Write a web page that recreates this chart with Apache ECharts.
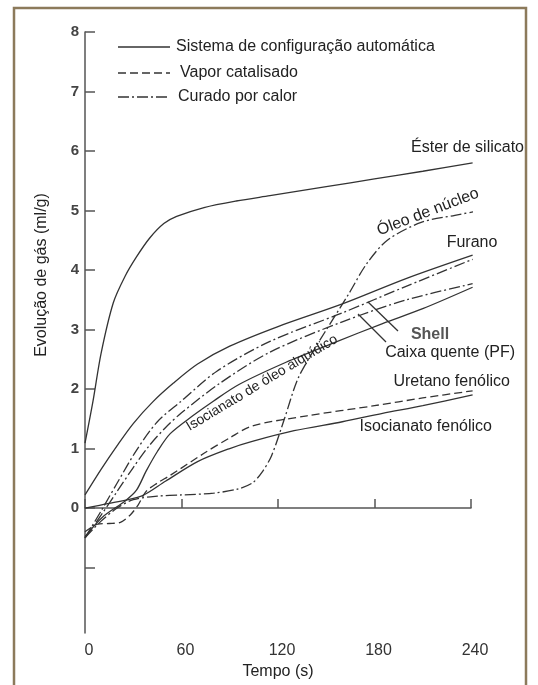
<!DOCTYPE html>
<html><head><meta charset="utf-8">
<script src="https://cdn.jsdelivr.net/npm/echarts@6/dist/echarts.min.js"></script>
<style>html,body{margin:0;padding:0;background:#fff}#c{width:538px;height:685px}</style>
</head><body><div id="c"></div>
<script>
// ---- data ----
const xTicks = [0, 60, 120, 180, 240];
const yTickValues = [-1, 0, 1, 2, 3, 4, 5, 6, 7, 8];
const yLabelValues = [0, 1, 2, 3, 4, 5, 6, 7, 8];
const legendNames = ['Sistema de configuração automática', 'Vapor catalisado', 'Curado por calor'];

// [tempo (s), evolução de gás (ml/g)]
const esterSilicato = [[0,1.09],[5,1.8],[10,2.6],[17.6,3.45],[25,3.9],[32,4.22],[40,4.53],[49,4.78],[57,4.9],[74,5.05],[94,5.16],[115,5.25],[150,5.4],[180,5.53],[210,5.66],[241,5.8]];
const furano = [[0,0.22],[10,0.65],[20,1.05],[30,1.42],[42,1.78],[55,2.1],[70,2.42],[90,2.72],[120,3.05],[160,3.43],[200,3.86],[241,4.25]];
const shell = [[0,-0.5],[10,-0.05],[20,0.42],[32,0.97],[45,1.45],[60,1.8],[82,2.3],[115,2.8],[160,3.28],[200,3.73],[241,4.18]];
const caixaQuente = [[0,-0.5],[10,-0.12],[20,0.28],[30,0.68],[40,1.05],[50,1.35],[60,1.6],[84,2.1],[115,2.62],[160,3.13],[200,3.5],[241,3.77]];
const oleoAlquidico = [[0,-0.48],[11,-0.15],[25,0.12],[32,0.3],[38,0.62],[45,0.95],[53,1.25],[67,1.55],[80,1.8],[96,2.08],[125,2.45],[155,2.78],[185,3.1],[210,3.35],[241,3.71]];
const oleoNucleo = [[0,-0.5],[10,-0.22],[20,0.0],[30,0.14],[45,0.2],[60,0.22],[80,0.25],[95,0.32],[104,0.42],[110,0.6],[116,0.88],[124,1.5],[132,2.15],[140,2.55],[149,2.95],[164,3.6],[175,4.1],[188,4.5],[209,4.8],[230,4.92],[242,4.98]];
const uretanoFenolico = [[0,-0.4],[8,-0.27],[15,-0.26],[22,-0.24],[28,-0.12],[33,0.05],[38,0.28],[45,0.42],[53,0.55],[74,0.92],[90,1.18],[104,1.38],[138,1.55],[180,1.72],[210,1.85],[241,1.97]];
const isocianatoFenolico = [[0,0],[15,0.08],[35,0.2],[50,0.45],[70,0.78],[90,1.0],[104,1.12],[130,1.3],[160,1.45],[185,1.59],[210,1.72],[241,1.9]];

// ---- styles ----
const INK = '#333';
const DASH = [8, 4];
const DASHDOT = [11, 3, 2, 3];
const styleOf = {solid: 'solid', dashed: DASH, dashdot: DASHDOT};

const curves = [
  {name: 'Éster de silicato', data: esterSilicato, s: 'solid'},
  {name: 'Furano', data: furano, s: 'solid'},
  {name: 'Shell', data: shell, s: 'dashdot'},
  {name: 'Caixa quente (PF)', data: caixaQuente, s: 'dashdot'},
  {name: 'Isocianato de óleo alquídico', data: oleoAlquidico, s: 'solid'},
  {name: 'Óleo de núcleo', data: oleoNucleo, s: 'dashdot'},
  {name: 'Uretano fenólico', data: uretanoFenolico, s: 'dashed'},
  {name: 'Isocianato fenólico', data: isocianatoFenolico, s: 'solid'}
];

const FONT = '"Liberation Sans", Arial, sans-serif';
const series = curves.map(c => ({
  name: c.name, type: 'line', data: c.data, symbol: 'none', showSymbol: false,
  smooth: 0.3, clip: false, silent: true,
  lineStyle: {color: INK, width: 1.3, type: styleOf[c.s]}
}));

function txt(text, x, y, opts) {
  opts = opts || {};
  return {type: 'text', x: x, y: y, rotation: (opts.rot || 0) * Math.PI / 180, z: 10,
    style: {text: text, fill: opts.color || '#222', font: (opts.weight || 'normal') + ' ' + (opts.size || 16) + 'px ' + FONT,
      align: opts.align || 'center', verticalAlign: 'middle'}};
}
function seg(x1, y1, x2, y2, dash) {
  return {type: 'line', z: 10, shape: {x1: x1, y1: y1, x2: x2, y2: y2},
    style: {stroke: INK, lineWidth: 1.3, lineDash: dash || null}};
}

// legend (line samples + names)
const legendRows = [['solid', 47], ['dashed', 73], ['dashdot', 97]];
const legendGraphics = [];
legendRows.forEach(([s, y], i) => {
  legendGraphics.push(seg(118, y, 170, y, s === 'solid' ? null : styleOf[s]));
  legendGraphics.push(txt(legendNames[i], 176 + (i === 1 ? 4 : i === 2 ? 2 : 0), y, {align: 'left'}));
});

const chart = echarts.init(document.getElementById('c'), null, {renderer: 'canvas'});
chart.setOption({
  backgroundColor: '#fff',
  animation: false,
  grid: {left: 85, right: 67, top: 32, bottom: 52},
  xAxis: {
    type: 'value', min: 0, max: 240, interval: 60,
    name: 'Tempo (s)', nameLocation: 'middle', nameGap: 31,
    nameTextStyle: {fontFamily: FONT, fontSize: 16, color: '#222'},
    axisLine: {lineStyle: {color: '#555', width: 1.5}},
    axisTick: {inside: true, length: 9, lineStyle: {color: '#555', width: 1.5}},
    axisLabel: {fontFamily: FONT, fontSize: 16, color: '#333', margin: 10, padding: [0, 0, 0, 8],
      customValues: xTicks},
    splitLine: {show: false}
  },
  yAxis: {
    type: 'value', min: -2.1, max: 8,
    axisLine: {show: true, lineStyle: {color: '#555', width: 1.5}},
    axisTick: {show: true, inside: true, length: 10, lineStyle: {color: '#555', width: 1.5}, customValues: yTickValues},
    axisLabel: {fontFamily: FONT, fontSize: 15, fontWeight: 'bold', color: '#444', margin: 6, customValues: yLabelValues},
    splitLine: {show: false}
  },
  graphic: [
    {type: 'rect', shape: {x: 14, y: 8, width: 512, height: 700}, silent: true, z: 0,
      style: {fill: null, stroke: '#8c7a5b', lineWidth: 2.5}},
    txt('Evolução de gás (ml/g)', 42, 275, {rot: 90}),
    txt('Éster de silicato', 524, 148, {align: 'right'}),
    txt('Óleo de núcleo', 428, 212, {rot: 21}),
    txt('Furano', 472, 243),
    txt('Shell', 430, 335, {weight: 'bold', color: '#555'}),
    txt('Caixa quente (PF)', 515, 353, {align: 'right'}),
    txt('Uretano fenólico', 510, 382, {align: 'right'}),
    txt('Isocianato fenólico', 492, 427, {align: 'right'}),
    txt('Isocianato de óleo alquídico', 262, 383, {rot: 31, size: 14}),
    seg(368, 302, 398, 331),
    seg(358, 314, 386, 342)
  ].concat(legendGraphics),
  series: series
});
</script>
</body></html>
